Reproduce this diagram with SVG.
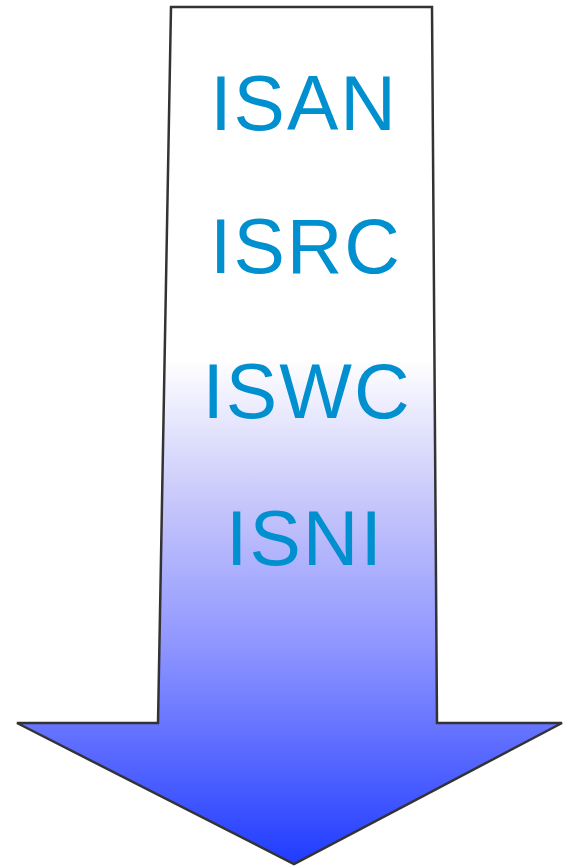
<svg xmlns="http://www.w3.org/2000/svg" width="564" height="867" viewBox="0 0 564 867">
  <defs>
    <linearGradient id="g" gradientUnits="userSpaceOnUse" x1="0" y1="7" x2="0" y2="864">
      <stop offset="0" stop-color="#ffffff"/>
      <stop offset="0.41" stop-color="#ffffff"/>
      <stop offset="0.58" stop-color="#c6c6fb"/>
      <stop offset="0.75" stop-color="#8d94ff"/>
      <stop offset="0.88" stop-color="#5566ff"/>
      <stop offset="1" stop-color="#1f3cff"/>
    </linearGradient>
  </defs>
  <style>
    .lbl { font-family: "Liberation Sans", Arial, sans-serif; font-size: 77px; fill: #0090cf; text-anchor: middle; letter-spacing: 2px; }
  </style>
  <rect width="564" height="867" fill="#ffffff"/>
  <g id="arrow">
    <path d="M171,7 L432,7 L437,723 L562,723 L294,864 L17,723 L158,723 Z" fill="url(#g)" stroke="#333333" stroke-width="2.5" stroke-linejoin="miter"/>
  </g>
  <g id="isan"><text class="lbl" x="304" y="130">ISAN</text></g>
  <g id="isrc"><text class="lbl" x="306" y="273">ISRC</text></g>
  <g id="iswc"><text class="lbl" x="307" y="418">ISWC</text></g>
  <g id="isni"><text class="lbl" x="305" y="565">ISNI</text></g>
</svg>
